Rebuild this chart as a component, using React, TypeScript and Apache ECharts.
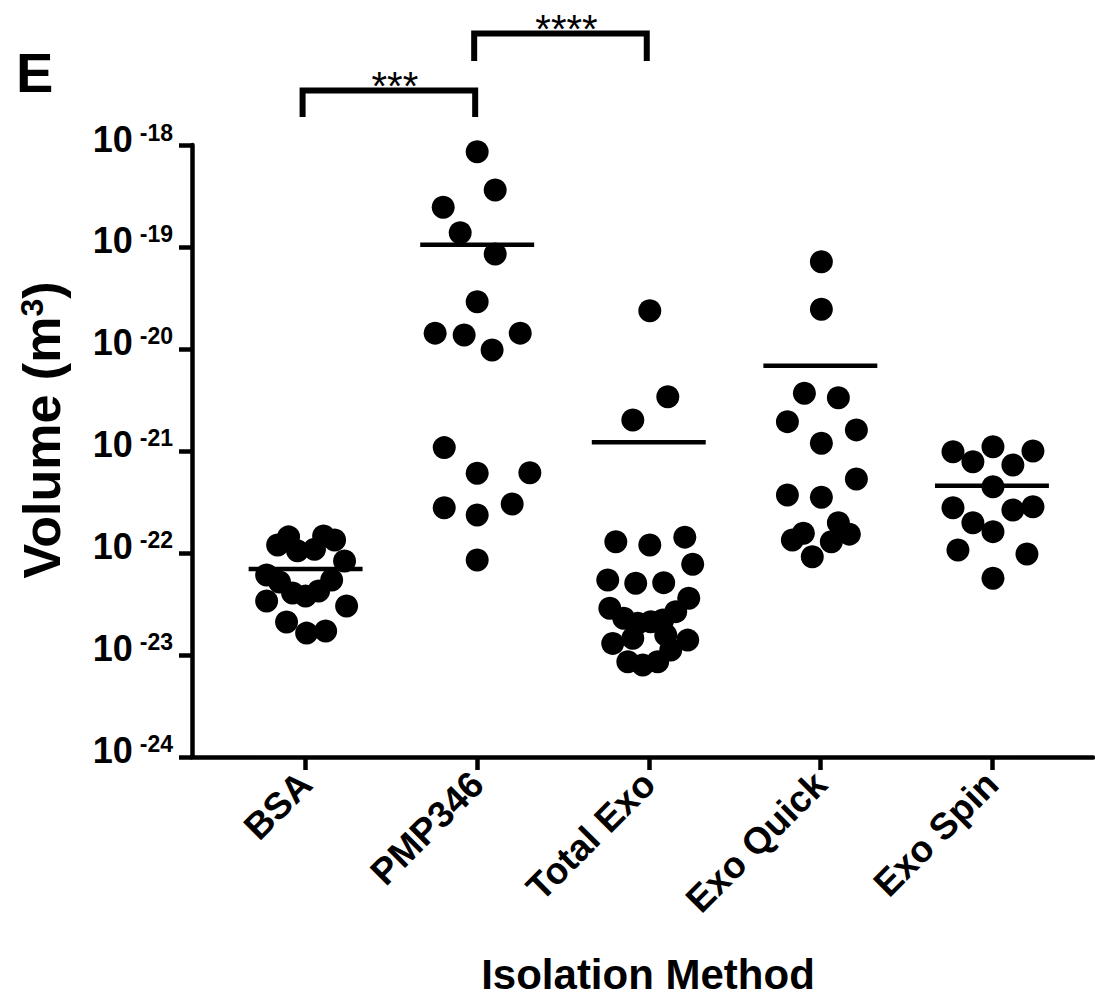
import React, { useEffect, useRef } from "react";
import * as echarts from "echarts";

const categories = ["BSA", "PMP346", "Total Exo", "Exo Quick", "Exo Spin"];

const bsaValues = [1.2e-22, 1.44e-22, 1.05e-22, 1.09e-22, 1.47e-22, 1.34e-22, 8.35e-23, 6.09e-23, 5.2e-23, 4.05e-23, 3.79e-23, 4.24e-23, 5.44e-23, 3.38e-23, 3.02e-23, 2.11e-23, 1.64e-23, 1.72e-23];
const bsaJitter = [-0.163, -0.099, -0.047, 0.052, 0.105, 0.169, 0.227, -0.227, -0.152, -0.076, 0, 0.076, 0.152, -0.227, 0.239, -0.111, 0.006, 0.117];

const pmp346Values = [8.59e-19, 3.62e-19, 2.45e-19, 1.38e-19, 8.54e-20, 2.91e-20, 1.43e-20, 1.37e-20, 9.77e-21, 1.43e-20, 1.08e-21, 6.04e-22, 6.13e-22, 2.78e-22, 2.36e-22, 3.02e-22, 8.54e-23];
const pmp346Jitter = [0, 0.105, -0.198, -0.099, 0.105, 0, -0.245, -0.076, 0.087, 0.251, -0.192, 0, 0.307, -0.192, 0, 0.204, 0];

const totalExoValues = [2.37e-20, 3.4e-21, 2.01e-21, 1.29e-22, 1.2e-22, 1.43e-22, 7.75e-23, 5.44e-23, 5.05e-23, 5.12e-23, 3.6e-23, 2.87e-23, 2.29e-23, 2.05e-23, 2.12e-23, 2.2e-23, 2.66e-23, 1.3e-23, 1.46e-23, 1.57e-23, 1.4e-23, 8.6e-24, 7.98e-24, 8.6e-24, 1.12e-23];
const totalExoJitter = [0.006, 0.111, -0.093, -0.192, 0.006, 0.21, 0.256, -0.239, -0.076, 0.087, 0.233, -0.227, -0.146, -0.064, 0.012, 0.082, 0.157, -0.21, -0.093, 0.099, 0.227, -0.122, -0.035, 0.052, 0.128];

const exoQuickValues = [7.18e-20, 2.45e-20, 3.68e-21, 3.33e-21, 1.94e-21, 1.61e-21, 1.19e-21, 5.31e-22, 3.7e-22, 3.52e-22, 1.56e-22, 1.34e-22, 1.98e-22, 1.53e-22, 1.29e-22, 9.2e-23];
const exoQuickJitter = [0.006, 0.006, -0.093, 0.105, -0.192, 0.21, 0.006, 0.21, -0.192, 0.006, -0.099, -0.163, 0.105, 0.169, 0.064, -0.047];

const exoSpinValues = [9.85e-22, 7.85e-22, 1.1e-21, 7.29e-22, 1.0e-21, 4.47e-22, 2.78e-22, 1.98e-22, 1.62e-22, 2.64e-22, 2.84e-22, 1.07e-22, 9.78e-23, 5.65e-23];
const exoSpinJitter = [-0.227, -0.111, 0.006, 0.122, 0.239, 0.006, -0.227, -0.111, 0.006, 0.122, 0.239, -0.198, 0.204, 0.006];

const meanValues = [6.97e-23, 1.05e-19, 1.22e-21, 6.86e-21, 4.57e-22];

const groupValues = [bsaValues, pmp346Values, totalExoValues, exoQuickValues, exoSpinValues];
const groupJitter = [bsaJitter, pmp346Jitter, totalExoJitter, exoQuickJitter, exoSpinJitter];

const categoryIndex = [0, 1, 2, 3, 4];
const yTickExponents = [-24, -23, -22, -21, -20, -19, -18];
const yTickValues = [1e-24, 1e-23, 1e-22, 1e-21, 1e-20, 1e-19, 1e-18];
const yMin = 0.99999e-24;
const yMax = 1e-18;
const comparisons = [
  { from: 0, to: 1, label: "***" },
  { from: 1, to: 2, label: "****" },
];

const FONT = "Liberation Sans, Arial, Helvetica, sans-serif";

export default function App() {
  const ref = useRef<HTMLDivElement>(null);

  useEffect(() => {
    const chart = echarts.init(ref.current!, null, { renderer: "svg" });

    const scatterData: number[][] = [];
    groupValues.forEach((vals, i) =>
      vals.forEach((v, k) => scatterData.push([i + groupJitter[i][k], v]))
    );

    chart.setOption({
      animation: false,
      textStyle: { fontFamily: FONT },
      grid: { left: 192, right: 2, top: 145, bottom: 246, containLabel: false, outerBoundsMode: "none" },
      xAxis: {
        type: "value",
        min: -0.662,
        max: 4.589,
        splitLine: { show: false },
        axisLine: { onZero: false, lineStyle: { color: "#000", width: 4.5 } },
        axisTick: { show: true, customValues: categoryIndex, length: 13, lineStyle: { color: "#000", width: 4.5 } },
        axisLabel: {
          customValues: categoryIndex,
          formatter: (v: number) => categories[Math.round(v)] ?? "",
          rotate: 45,
          margin: 21,
          color: "#000",
          fontSize: 37,
          fontWeight: "bold",
          fontFamily: FONT,
        },
      },
      yAxis: {
        type: "log",
        logBase: 10,
        min: yMin,
        max: yMax,
        splitLine: { show: false },
        axisLine: { onZero: false, lineStyle: { color: "#000", width: 4.5 } },
        axisTick: { show: true, customValues: yTickValues, length: 13, lineStyle: { color: "#000", width: 4.5 } },
        minorTick: { show: false },
        axisLabel: { show: false },
      },
      series: [
        {
          type: "scatter",
          data: scatterData,
          symbol: "circle",
          symbolSize: 23,
          itemStyle: { color: "#000", opacity: 1 },
          z: 2,
        },
        {
          type: "custom",
          data: meanValues.map((m, i) => [i, m]),
          encode: { x: 0, y: 1 },
          z: 3,
          renderItem: (_params: any, api: any) => {
            const i = api.value(0);
            const m = api.value(1);
            const p1 = api.coord([i - 0.332, m]);
            const p2 = api.coord([i + 0.332, m]);
            return {
              type: "line",
              shape: { x1: p1[0], y1: p1[1], x2: p2[0], y2: p2[1] },
              style: { stroke: "#000", lineWidth: 4.5 },
            };
          },
        },
      ],
    });

    const px = (i: number) => chart.convertToPixel({ xAxisIndex: 0 }, i) as number;
    const py = (v: number) => chart.convertToPixel({ yAxisIndex: 0 }, v) as number;
    const axisX = px(-0.662);

    const graphics: any[] = [];

    yTickExponents.forEach((e, k) => {
      graphics.push({
        type: "text",
        x: axisX - 19,
        y: py(yTickValues[k]) - 6,
        style: {
          text: `{b|10}{s|${e}}`,
          fontSize: 36,
          fontWeight: "bold",
          fontFamily: FONT,
          fill: "#000",
          textAlign: "right",
          textVerticalAlign: "middle",
          rich: {
            b: { fontSize: 36, fontWeight: "bold", fontFamily: FONT, fill: "#000" },
            s: { fontSize: 23, fontWeight: "bold", fontFamily: FONT, fill: "#000", verticalAlign: "top", padding: [0, 0, 0, 7] },
          },
        },
      });
    });

    const levels = [
      { bar: 90.5, leg: 117, star: 86 },
      { bar: 33.5, leg: 61, star: 29 },
    ];
    comparisons.forEach((c, k) => {
      const x1 = px(c.from) - 3;
      const x2 = px(c.to) - 2;
      const lv = levels[k];
      graphics.push({
        type: "polyline",
        shape: { points: [[x1, lv.leg], [x1, lv.bar], [x2, lv.bar], [x2, lv.leg]] },
        style: { stroke: "#000", lineWidth: 6, fill: null, lineJoin: "miter", lineCap: "butt" },
      });
      graphics.push({
        type: "text",
        x: (x1 + x2) / 2 + 6,
        y: lv.star,
        style: {
          text: c.label,
          fontSize: 40,
          fontFamily: FONT,
          fill: "#000",
          textAlign: "center",
          textVerticalAlign: "middle",
        },
      });
    });

    graphics.push({
      type: "text",
      x: 16,
      y: 72,
      style: {
        text: "E",
        fontSize: 56,
        fontWeight: "bold",
        fontFamily: FONT,
        fill: "#000",
        textAlign: "left",
        textVerticalAlign: "middle",
      },
    });

    graphics.push({
      type: "text",
      x: 42,
      y: 430,
      rotation: Math.PI / 2,
      style: {
        text: "{a|Volume (m}{s|3}{a|)}",
        fontSize: 52,
        fontWeight: "bold",
        fontFamily: FONT,
        fill: "#000",
        textAlign: "center",
        textVerticalAlign: "middle",
        rich: {
          a: { fontSize: 52, fontWeight: "bold", fontFamily: FONT, fill: "#000" },
          s: { fontSize: 32, fontWeight: "bold", fontFamily: FONT, fill: "#000", verticalAlign: "top" },
        },
      },
    });

    graphics.push({
      type: "text",
      x: 648,
      y: 974,
      style: {
        text: "Isolation Method",
        fontSize: 42,
        fontWeight: "bold",
        fontFamily: FONT,
        fill: "#000",
        textAlign: "center",
        textVerticalAlign: "middle",
      },
    });

    chart.setOption({ graphic: graphics });

    return () => chart.dispose();
  }, []);

  return (
    <div
      ref={ref}
      style={{ position: "absolute", left: 0, top: 0, width: 1095, height: 1003 }}
    />
  );
}
